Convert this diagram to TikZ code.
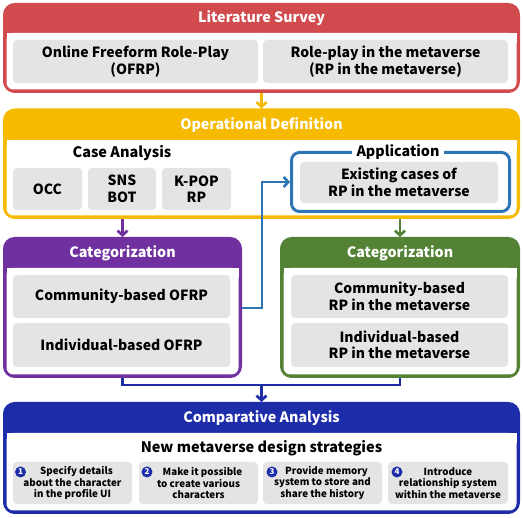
\documentclass[tikz,border=0pt]{standalone}
\usepackage{fontspec}
\setmainfont{Noto Sans CJK KR}
\usetikzlibrary{arrows.meta,fit,calc}
\definecolor{litred}{HTML}{D14A4D}
\definecolor{opyel}{HTML}{F6BB00}
\definecolor{catpur}{HTML}{7030A0}
\definecolor{catgrn}{HTML}{548235}
\definecolor{appblue}{HTML}{2E75B6}
\definecolor{compnavy}{HTML}{1D2DAA}
\definecolor{boxgrey}{HTML}{E4E4E4}
\tikzset{
  outerbox/.style={draw=#1, fill=#1, line width=3.5pt, rounded corners=10pt, inner sep=0pt},
  hdr/.style={text=white, font=\bfseries\fontsize{14.3}{16}\selectfont},
  gbox/.style={fill=boxgrey, rounded corners=4pt, inner sep=0pt, align=center,
     font=\bfseries\fontsize{14}{16.5}\selectfont},
  sbox/.style={fill=boxgrey, rounded corners=4pt, inner sep=0pt, align=center,
     font=\bfseries\fontsize{9.8}{11.7}\selectfont},
  conn/.style={line width=2.7pt, -{Straight Barb[length=4.5pt,width=10pt]}},
  plainline/.style={line width=2.7pt},
  numc/.style={circle, fill=compnavy, text=white, inner sep=0pt, minimum size=11pt,
     font=\bfseries\fontsize{8}{8}\selectfont},
}
\newcommand\bigbox[7]{% name, color, x1, y1, x2, y2, header bottom
  \node[outerbox=#2, fit={(#3,#4) (#5,#6)}] (#1) {};
  \fill[white, rounded corners=7pt] ({#3+1.75},#7) rectangle ({#5-1.75},{#6-1.75});
  \fill[white] ({#3+1.75},#7) rectangle ({#5-1.75},{#7+10});
}
\newcommand\gb[7]{% style, name, x1, y1, x2, y2, text
  \node[#1, minimum width={#5-#3}, minimum height={#6-#4}] (#2) at ({(#3+#5)/2},{(#4+#6)/2}) {#7};
}
\begin{document}
\begin{tikzpicture}[x=1pt,y=-1pt]
\useasboundingbox (0,0) rectangle (523,518);
\fill[white] (0,0) rectangle (523,518);

% Literature survey
\bigbox{lit}{litred}{4.75}{4.75}{518.25}{91.25}{33}
\node[hdr] (litT) at (261.5,18.5) {Literature Survey};
\gb{gbox}{lit1}{13}{40}{258}{83}{Online Freeform Role-Play\\(OFRP)}
\gb{gbox}{lit2}{263}{40}{508}{83}{Role-play in the metaverse\\(RP in the metaverse)}

% Operational definition
\bigbox{op}{opyel}{4.75}{110.25}{518.25}{217.25}{140}
\node[hdr] (opT) at (261.5,125) {Operational Definition};
\node[font=\bfseries\fontsize{14.5}{16}\selectfont] (caseT) at (122,153) {Case Analysis};
\gb{gbox}{occ}{13}{168}{82}{210}{OCC}
\gb{gbox}{sns}{88}{168}{156}{210}{SNS\\BOT}
\gb{gbox}{kpop}{162}{168}{231}{210}{K-POP\\RP}
\node[draw=appblue, line width=3pt, rounded corners=8pt, inner sep=0pt,
      fit={(291.5,152.5) (509.5,211.5)}] (app) {};
\gb{gbox}{exist}{300}{162}{498}{203}{Existing cases of\\RP in the metaverse}
\node[fill=white, inner xsep=5pt, inner ysep=1pt, font=\bfseries\fontsize{14.3}{16}\selectfont] (appT) at (398,152) {Application};

% Purple categorization
\bigbox{pur}{catpur}{4.75}{238.75}{240.25}{376.25}{268}
\node[hdr] (purT) at (122.5,253) {Categorization};
\gb{gbox}{pc1}{13}{275}{230}{318}{Community-based OFRP}
\gb{gbox}{pc2}{13}{323}{230}{367}{Individual-based OFRP}

% Green categorization
\bigbox{grn}{catgrn}{281.75}{238.75}{518.25}{376.25}{268}
\node[hdr] (grnT) at (400,253) {Categorization};
\gb{gbox}{gc1}{291}{275}{508}{318}{Community-based\\RP in the metaverse}
\gb{gbox}{gc2}{291}{323}{508}{367}{Individual-based\\RP in the metaverse}

% Comparative analysis
\bigbox{comp}{compnavy}{4.75}{403.75}{518.25}{512.25}{433}
\node[hdr] (compT) at (261.5,418) {Comparative Analysis};
\node[font=\bfseries\fontsize{14.5}{17}\selectfont] (newT) at (261.5,448) {New metaverse design strategies};
\gb{sbox}{s1}{13}{462}{132}{504}{\hspace*{8pt}Specify details\\about the character\\in the profile UI}
\gb{sbox}{s2}{139}{462}{258}{504}{\hspace*{8pt}Make it possible\\to create various\\characters}
\gb{sbox}{s3}{263}{462}{382}{504}{\hspace*{8pt}Provide memory\\system to store and\\share the history}
\gb{sbox}{s4}{388}{462}{508}{504}{Introduce\\relationship system\\within the metaverse}
\node[numc] (n1) at (20.5,472) {1};
\node[numc] (n2) at (147,472) {2};
\node[numc] (n3) at (272,472) {3};
\node[numc] (n4) at (397,472) {4};

% Connectors
\draw[conn, opyel] (lit.south) -- (op.north);
\draw[conn, catpur] (op.south -| pur.north) -- (pur.north);
\draw[conn, catgrn] (op.south -| grn.north) -- (grn.north);
\coordinate (bj) at (262,308);
\coordinate (bk) at (262,182);
\draw[conn, appblue] (pur.east |- bj) -- (bj) -- (bk) -- (app.west |- bk);
\coordinate (bm) at (261.5,385);
\draw[plainline, compnavy] (pur.south) |- (bm) -| (grn.south);
\draw[conn, compnavy] (bm) -- (comp.north);
\end{tikzpicture}
\end{document}
